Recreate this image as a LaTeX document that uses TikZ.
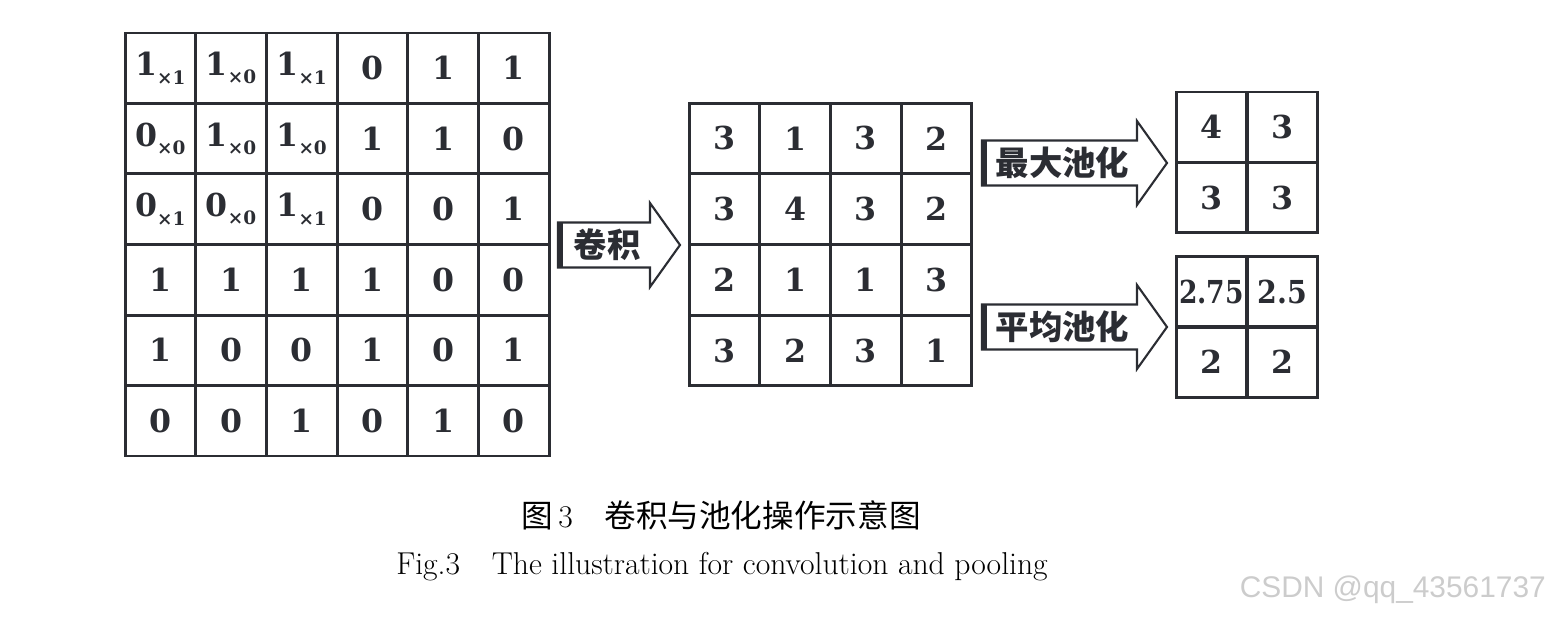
\documentclass[tikz,border=0pt]{standalone}
\usepackage{fontspec}
\usepackage{graphicx}
\newfontfamily\cjk{Noto Sans CJK SC}
\newfontfamily\cellfont{DejaVu Serif}
\setsansfont{Liberation Sans}
\usetikzlibrary{positioning}

\definecolor{inkc}{RGB}{43,45,51}
% digit with its kernel weight
\newcommand\wt[2]{#1\raisebox{-0.5ex}{\fontsize{10.5}{11}\selectfont ×#2}}

\tikzset{
  cell/.style={draw=inkc, line width=1.7pt, minimum width=1.413cm, minimum height=1.41cm,
    inner sep=0pt, text=inkc, font=\cellfont\bfseries\fontsize{18}{20}\selectfont},
  blockarrow/.style={draw=inkc, line width=1.2pt, line join=miter, fill=white},
  tailbar/.style={draw=inkc, line width=2.8pt},
  arrowtext/.style={inner sep=0pt, text=inkc, font=\cjk\bfseries\fontsize{19}{19}\selectfont},
  caption/.style={inner sep=0pt, font=\fontsize{18}{20}\selectfont},
}

\begin{document}
\begin{tikzpicture}[x=0.02cm,y=-0.02cm]
  \useasboundingbox (0,0) rectangle (1558,618);

  % Input map with the kernel on its corner
  \foreach \row [count=\r] in {{\wt11,\wt10,\wt11,0,1,1},{\wt00,\wt10,\wt10,1,1,0},{\wt01,\wt00,\wt11,0,0,1},
      {1,1,1,1,0,0},{1,0,0,1,0,1},{0,0,1,0,1,0}}
    \foreach \v [count=\c] in \row
      \node[cell] (in-\r-\c) at ({125+70.67*(\c-0.5)},{33+70.5*(\r-0.5)}) {\v};

  % Feature map after convolution
  \foreach \row [count=\r] in {{3,1,3,2},{3,4,3,2},{2,1,1,3},{3,2,3,1}}
    \foreach \v [count=\c] in \row
      \node[cell] (conv-\r-\c) at ({689+70.75*(\c-0.5)},{103+70.75*(\r-0.5)}) {\v};

  % Pooled maps
  \foreach \row [count=\r] in {{4,3},{3,3}}
    \foreach \v [count=\c] in \row
      \node[cell] (max-\r-\c) at ({1176+71*(\c-0.5)},{92+70.5*(\r-0.5)}) {\v};
  \foreach \row [count=\r] in {{\scalebox{0.84}[1]{2.75},\scalebox{0.9}[1]{2.5}},{2,2}}
    \foreach \v [count=\c] in \row
      \node[cell] (avg-\r-\c) at ({1176+71*(\c-0.5)},{257+70*(\r-0.5)}) {\v};

  % Block arrows
  \foreach \xa/\xh/\yc/\lab/\nm in {558/650/245/卷积/convop, 982/1137/163/最大池化/maxop, 982/1137/327/平均池化/avgop} {
    \draw[blockarrow] (\xa,\yc-22.5) -- (\xh,\yc-22.5) -- (\xh,\yc-42) -- (\xh+30,\yc)
      -- (\xh,\yc+42) -- (\xh,\yc+22.5) -- (\xa,\yc+22.5) -- cycle;
    \draw[tailbar] (\xa+2.5,\yc-22.5) -- (\xa+2.5,\yc+22.5);
    \node[arrowtext] (\nm) at ({(\xa+\xh)/2+3},\yc) {\lab};
  }

  % Caption
  \node[caption] (capcn) at (721,515) {{\cjk 图}\,3\quad{\cjk 卷积与池化操作示意图}};
  \node[caption] (capen) at (722,567) {Fig.3\quad The illustration for convolution and pooling};

  % Watermark
  \node[anchor=east, text=black!20, font=\sffamily\fontsize{17}{17}\selectfont] (mark) at (1552,590) {CSDN @qq\_43561737};
\end{tikzpicture}
\end{document}
